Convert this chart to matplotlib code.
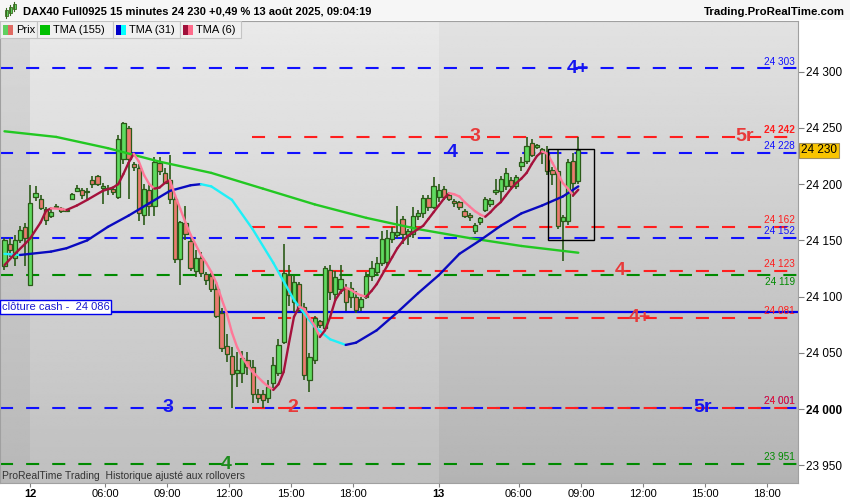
import numpy as np
import matplotlib.pyplot as plt
from matplotlib.collections import LineCollection
from matplotlib.patches import Rectangle

plt.rcParams['font.family'] = ['Liberation Sans', 'DejaVu Sans']
plt.rcParams['lines.scale_dashes'] = False

# DAX40 15 min bars, 12 aout (fin de nuit) -> 13 aout 09:00
opens = [24127, 24147, 24134, 24150, 24162, 24110, 24189, 24187, 24178, 24172,
         24180, 24179, 24176, 24187, 24194, 24195, 24193, 24204, 24207, 24197,
         24196, 24196, 24189, 24222, 24250, 24218, 24214, 24173, 24195, 24181,
         24219, 24210, 24204, 24187, 24133, 24165, 24149, 24123, 24134, 24120,
         24118, 24107, 24085, 24056, 24047, 24032, 24032, 24044, 24037, 24013,
         24013, 24010, 24023, 24032, 24060, 24119, 24095, 24111, 24091, 24026,
         24044, 24078, 24072, 24124, 24102, 24107, 24108, 24100, 24100, 24091,
         24100, 24118, 24122, 24130, 24131, 24151, 24155, 24169, 24154, 24156,
         24172, 24174, 24188, 24180, 24189, 24196, 24190, 24185, 24184, 24176,
         24173, 24158, 24166, 24177, 24182, 24193, 24194, 24198, 24204, 24198,
         24216, 24221, 24237, 24233, 24228, 24228, 24213, 24212, 24167, 24167,
         24221, 24203]
highs = [24152, 24152, 24155, 24163, 24165, 24199, 24198, 24190, 24180, 24178,
         24182, 24180, 24178, 24192, 24199, 24197, 24197, 24207, 24208, 24201,
         24199, 24197, 24244, 24255, 24252, 24220, 24218, 24200, 24200, 24224,
         24224, 24214, 24226, 24190, 24167, 24181, 24152, 24141, 24140, 24122,
         24121, 24112, 24090, 24067, 24055, 24051, 24052, 24051, 24044, 24018,
         24017, 24026, 24046, 24062, 24147, 24128, 24118, 24113, 24094, 24050,
         24083, 24079, 24127, 24128, 24123, 24128, 24111, 24113, 24105, 24100,
         24122, 24132, 24135, 24158, 24159, 24162, 24181, 24172, 24160, 24180,
         24177, 24190, 24190, 24206, 24200, 24198, 24192, 24187, 24185, 24178,
         24174, 24165, 24171, 24189, 24188, 24205, 24207, 24214, 24206, 24208,
         24224, 24242, 24240, 24236, 24232, 24234, 24215, 24230, 24173, 24222,
         24228, 24242]
lows = [24124, 24135, 24127, 24148, 24127, 24109, 24185, 24177, 24164, 24170,
        24179, 24174, 24175, 24186, 24193, 24187, 24186, 24197, 24198, 24182,
        24190, 24190, 24187, 24218, 24187, 24212, 24167, 24164, 24172, 24172,
        24208, 24200, 24182, 24130, 24110, 24150, 24123, 24117, 24117, 24110,
        24104, 24081, 24051, 24042, 24001, 24020, 24023, 24030, 24005, 24005,
        24001, 24005, 24019, 24029, 24058, 24092, 24086, 24086, 24026, 24015,
        24040, 24072, 24070, 24097, 24098, 24102, 24087, 24090, 24085, 24087,
        24098, 24114, 24119, 24127, 24128, 24148, 24152, 24147, 24146, 24152,
        24168, 24170, 24176, 24178, 24184, 24186, 24185, 24180, 24177, 24170,
        24167, 24156, 24164, 24175, 24180, 24190, 24185, 24195, 24195, 24196,
        24212, 24218, 24224, 24231, 24218, 24208, 24199, 24160, 24132, 24164,
        24189, 24200]
closes = [24150, 24141, 24150, 24159, 24152, 24183, 24192, 24179, 24168, 24175,
          24181, 24176, 24177, 24191, 24197, 24190, 24194, 24200, 24200, 24198,
          24197, 24193, 24240, 24254, 24222, 24215, 24174, 24196, 24181, 24220,
          24212, 24201, 24187, 24133, 24166, 24156, 24125, 24134, 24121, 24115,
          24107, 24083, 24054, 24049, 24031, 24035, 24045, 24037, 24013, 24010,
          24008, 24020, 24039, 24057, 24121, 24101, 24113, 24088, 24030, 24046,
          24081, 24075, 24125, 24104, 24117, 24116, 24095, 24108, 24088, 24098,
          24118, 24125, 24130, 24151, 24152, 24157, 24157, 24156, 24158, 24172,
          24174, 24188, 24180, 24198, 24195, 24189, 24187, 24183, 24180, 24172,
          24171, 24164, 24170, 24187, 24186, 24195, 24205, 24210, 24198, 24206,
          24220, 24234, 24226, 24235, 24231, 24212, 24209, 24163, 24171, 24220,
          24201, 24230]

# moyennes TMA (index de barre, valeur)
tma155_idx = [0, 10, 20, 30, 40, 50, 60, 70, 80, 90, 100, 111]
tma155_val = [24247, 24242, 24232, 24220, 24210, 24196, 24182, 24170, 24160, 24152, 24145, 24139]

tma31_idx = [0, 3, 9, 12, 16, 20, 24, 28, 32, 36, 38, 40, 44, 48, 52, 56, 60, 63,
             66, 68, 72, 76, 80, 84, 88, 92, 96, 100, 104, 108, 111]
tma31_val = [24138, 24137, 24140, 24143, 24150, 24162, 24172, 24183, 24194, 24199,
             24200, 24198, 24186, 24160, 24130, 24097, 24073, 24062, 24057, 24059,
             24070, 24086, 24103, 24119, 24138, 24150, 24163, 24174, 24181, 24189, 24198]

tma6_idx = [0, 2, 4, 5, 7, 8, 9, 11, 12, 14, 16, 19, 21, 22, 23, 24, 25, 26, 27, 28,
            29, 30, 31, 32, 33, 34, 35, 36, 37, 38, 39, 40, 41, 42, 43, 44, 45, 46,
            47, 48, 50, 51, 52, 53, 54, 55, 56, 57, 58, 59, 60, 61, 62, 63, 64, 65,
            66, 67, 68, 69, 70, 71, 72, 73, 74, 75, 76, 77, 78, 79, 80, 81, 82, 83,
            84, 85, 86, 87, 88, 89, 90, 91, 92, 93, 94, 95, 96, 97, 98, 99, 100,
            101, 102, 103, 104, 105, 106, 107, 108, 109, 110, 111]
tma6_val = [24128, 24138, 24147, 24152, 24166, 24176, 24178.5, 24178, 24177, 24181,
            24186, 24194, 24197, 24200, 24209, 24219, 24227, 24220, 24208, 24200,
            24196, 24197, 24201, 24203.5, 24190, 24178, 24166, 24155, 24146, 24137,
            24130, 24122, 24112, 24098, 24085, 24068, 24055, 24046, 24039, 24033,
            24024, 24020, 24017, 24022, 24033, 24058, 24082, 24091, 24089, 24081,
            24074, 24064, 24070, 24082, 24097, 24104, 24108, 24106, 24103, 24101,
            24100, 24105, 24111, 24119, 24127, 24135, 24143, 24149, 24154, 24157,
            24160, 24163, 24169, 24175, 24181, 24187, 24192, 24191, 24189, 24184,
            24180, 24176, 24173, 24171, 24175, 24180, 24184, 24190, 24196, 24201,
            24205, 24210, 24218, 24225, 24229, 24227, 24219, 24210, 24201, 24196,
            24190, 24195]

# niveaux
blue_levels = [24303, 24228, 24152, 24001]
red_levels = [24242, 24162, 24123, 24081, 24001]
green_levels = [24119, 23951]
red_start_bar = 48
cash_close = 24086
last_price = 24230

# etiquettes des niveaux (texte, index barre, prix, couleur)
level_tags = [("4+", 110.9, 24303, 'b'), ("4", 86.6, 24228, 'b'), ("3", 31.6, 24001, 'b'),
              ("5r", 135.1, 24001, 'b'), ("3", 91.0, 24242, 'r'), ("5r", 143.2, 24242, 'r'),
              ("4", 119.1, 24123, 'r'), ("4+", 122.9, 24081, 'r'), ("2", 55.8, 24001, 'r'),
              ("4", 42.8, 23951, 'g')]

box_bars = [105.1, 114.0]
box_prices = [24150.3, 24231.2]

# axe du temps
tick_pos = [5, 19.5, 31.5, 43.5, 55.5, 67.5, 84, 99.5, 111.5, 123.5, 135.5, 147.5]
tick_lbl = ['12', '06:00', '09:00', '12:00', '15:00', '18:00',
            '13', '06:00', '09:00', '12:00', '15:00', '18:00']
day_starts = [5, 84]
yticks = [23950, 24000, 24050, 24100, 24150, 24200, 24250, 24300]

COL = {'b': '#1010ff', 'r': '#ff1e1e', 'g': '#008a00'}
TAGCOL = {'b': '#1515f0', 'r': '#e83a3a', 'g': '#1e8c1e'}

W, H = 850, 500
fig = plt.figure(figsize=(8.5, 5), dpi=100)
ax = fig.add_axes([0, 17 / H, 798 / W, 462 / H])

xmin, xmax = -0.87, 153.5
ylo, yhi = 23934.2, 24345.1

# fond degrade, 3 zones (veille, jour 12, jour 13)
def gradient(x0, x1, top, bottom):
    g = np.linspace(top, bottom, 200)[:, None]
    ax.imshow(g, cmap='gray', vmin=0, vmax=1, extent=(x0, x1, ylo, yhi),
              aspect='auto', zorder=0, interpolation='bilinear')

gradient(xmin, day_starts[0], 0.85, 0.72)
gradient(day_starts[0], day_starts[1], 0.915, 0.75)
gradient(day_starts[1], xmax, 0.885, 0.705)

# lignes de niveau pointillees
dash = (9.4, 9.4)
for lvl in green_levels:
    ax.plot([xmin, xmax], [lvl, lvl], color=COL['g'], lw=1.5, dashes=dash, zorder=2)
for lvl in blue_levels:
    ax.plot([xmin, xmax], [lvl, lvl], color=COL['b'], lw=1.5, dashes=dash, zorder=2)
for lvl in red_levels:
    ax.plot([red_start_bar - 0.1, xmax], [lvl, lvl], color=COL['r'], lw=1.5, dashes=dash, zorder=2.1)

# cloture cash
ax.axhline(cash_close, color='#0000ee', lw=1.6, zorder=2.2)
ax.text(0.002, cash_close, "clôture cash -  24 086", transform=ax.get_yaxis_transform(),
        ha='left', va='bottom', fontsize=8, color='#1a1ad0', zorder=6,
        bbox=dict(boxstyle='square,pad=0.18', fc='white', ec='#0000ee', lw=1))

# bougies
o = np.array(opens, float)
c = np.array(closes, float)
idx = np.arange(len(o))
up = c >= o
edge = '#2b5a18'
ax.vlines(idx, lows, highs, color=edge, lw=1.2, zorder=3)
body_lo = np.minimum(o, c)
body_h = np.maximum(np.abs(c - o), 0.9)
ax.bar(idx, body_h, bottom=body_lo, width=0.82, color=np.where(up, '#5fda5f', '#ea7b70'),
       edgecolor=edge, linewidth=0.9, zorder=3.5)

# TMA, couleur selon la pente
def tma_line(xs, ys, up_col, down_col, lw=1.7):
    pts = np.column_stack([xs, ys])
    segs = np.stack([pts[:-1], pts[1:]], axis=1)
    cols = [up_col if y1 >= y0 else down_col for y0, y1 in zip(ys[:-1], ys[1:])]
    ax.add_collection(LineCollection(segs, colors=cols, linewidths=lw, zorder=4,
                                     capstyle='round', joinstyle='round'))

tma_line(tma155_idx, tma155_val, '#22c822', '#22c822')
tma_line(tma31_idx, tma31_val, '#0a0ac0', '#1ef0f8')
tma_line(tma6_idx, tma6_val, '#a5123c', '#ff7898')

# cadre autour des dernieres barres
ax.add_patch(Rectangle((box_bars[0], box_prices[0]), box_bars[1] - box_bars[0],
                       box_prices[1] - box_prices[0], fill=False, ec='black', lw=1, zorder=5))

# gros chiffres sur les niveaux
for txt, bx, lvl, k in level_tags:
    ax.text(bx, lvl, txt, color=TAGCOL[k], fontsize=14, fontweight='bold',
            ha='center', va='center', zorder=6)

# prix des niveaux a droite
def fmt(v):
    return f"{v:,}".replace(",", " ")

right_tags = [(l, 'b') for l in blue_levels] + [(l, 'r') for l in red_levels] + \
             [(l, 'g') for l in green_levels]
for lvl, k in right_tags:
    bold = lvl == 24242 and k == 'r'
    # 24 119 (vert) colle a 24 123 (rouge) : on le met sous sa ligne
    below = lvl == 24119
    ax.annotate(fmt(lvl), (152.9, lvl), xytext=(0, -1.5 if below else 1.2),
                textcoords='offset points', ha='right', va='top' if below else 'bottom',
                fontsize=7.2, color=COL[k], fontweight='bold' if bold else 'normal', zorder=6)

ax.set_xlim(xmin, xmax)
ax.set_ylim(ylo, yhi)

# axe des prix a droite
ax.yaxis.tick_right()
ax.set_yticks(yticks, labels=[fmt(v) for v in yticks])
ax.tick_params(axis='y', length=4, width=0.8, color='#808080', pad=2, labelsize=8.5)
for lbl in ax.get_yticklabels():
    if lbl.get_text() == '24 000':
        lbl.set_fontweight('bold')

ax.text(1.004, last_price, fmt(last_price), transform=ax.get_yaxis_transform(),
        ha='left', va='center', fontsize=8.5, color='black', zorder=7, clip_on=False,
        bbox=dict(boxstyle='square,pad=0.15', fc='#f8c400', ec='#a09060', lw=0.8))

# axe du temps
ax.set_xticks(tick_pos, labels=tick_lbl)
ax.tick_params(axis='x', length=3, width=0.8, color='#808080', pad=1.5, labelsize=8)
for lbl in ax.get_xticklabels():
    if lbl.get_text() in ('12', '13'):
        lbl.set_fontweight('bold')

for s in ['left', 'right', 'bottom', 'top']:
    ax.spines[s].set_color('#a0a0a0')
    ax.spines[s].set_linewidth(0.8)

ax.text(0.003, 23936, "ProRealTime Trading  Historique ajusté aux rollovers",
        fontsize=7.5, color='#333333', ha='left', va='bottom',
        transform=ax.get_yaxis_transform(), zorder=6)

# bandeau titre
fig.patches.append(Rectangle((0, 1 - 20 / H), 1, 20 / H, transform=fig.transFigure,
                             fc='#f6f6f6', ec='none', zorder=1))
fig.text(23 / W, 1 - 12 / H, "DAX40 Full0925 15 minutes 24 230 +0,49 % 13 août 2025, 09:04:19",
         fontsize=8, fontweight='bold', va='center', ha='left')
fig.text(845 / W, 1 - 12 / H, "Trading.ProRealTime.com", fontsize=8.2, fontweight='bold',
         va='center', ha='right')
# petite icone bougies
for bx, b0, b1, w0, w1 in [(6, 10, 16, 8, 18), (10, 7, 13, 5, 15), (14, 4, 9, 2, 11)]:
    fig.lines.append(plt.Line2D([bx / W, bx / W], [1 - w1 / H, 1 - w0 / H],
                                transform=fig.transFigure, color='#3a6a20', lw=0.8))
    fig.patches.append(Rectangle(((bx - 1.5) / W, 1 - b1 / H), 3 / W, (b1 - b0) / H,
                                 transform=fig.transFigure, fc='#5fda5f', ec='#3a6a20', lw=0.6))

# legende
legend_items = [("Prix", 0, 37, ['#5fd05f', '#e06a62']),
                ("TMA (155)", 37, 113, ['#00c000']),
                ("TMA (31)", 113, 180, ['#0000c8', '#00ffff']),
                ("TMA (6)", 180, 241, ['#a0103a', '#ff6b8b'])]
for name, x0, x1, cols in legend_items:
    fig.patches.append(Rectangle((x0 / W, 1 - 38 / H), (x1 - x0) / W, 17 / H,
                                 transform=fig.transFigure, fc='#f0f0f0', ec='#c4c4c4', lw=0.8, zorder=2))
    sw = 10 / len(cols)
    for i, cc in enumerate(cols):
        fig.patches.append(Rectangle(((x0 + 3 + i * sw) / W, 1 - 35 / H), sw / W, 10 / H,
                                     transform=fig.transFigure, fc=cc, ec='none', zorder=3))
    fig.text((x0 + 16) / W, 1 - 30 / H, name, fontsize=8, va='center', ha='left', zorder=4)

fig.savefig('out.png', dpi=100)
